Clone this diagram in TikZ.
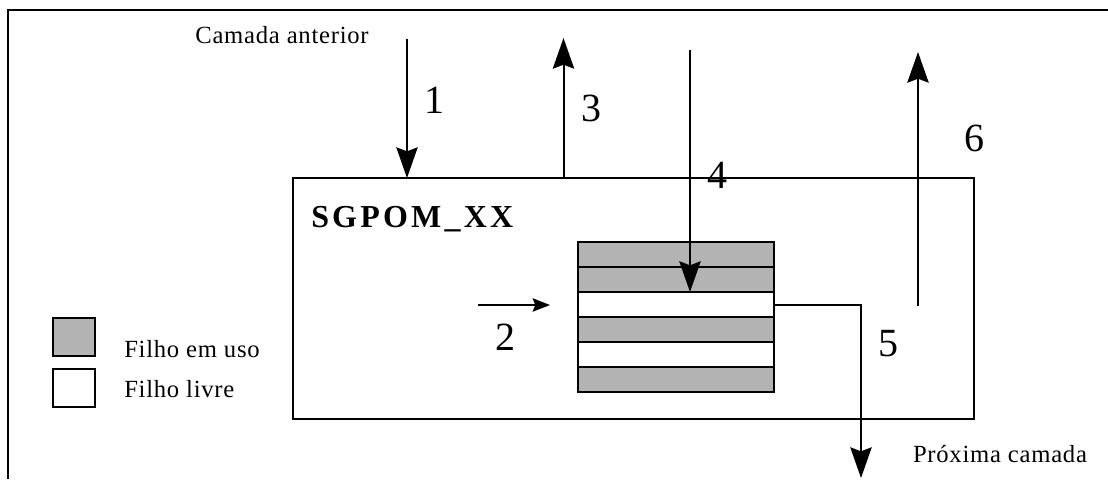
\documentclass[tikz,border=0pt]{standalone}
\usepackage{fontspec}
\setmainfont{Liberation Serif}
\newfontfamily\lblfont[LetterSpace=3]{Liberation Serif}
\newfontfamily\ttlfont[LetterSpace=10]{Liberation Serif}
\usetikzlibrary{arrows.meta,positioning}
\definecolor{ink}{HTML}{000000}
\definecolor{busy}{HTML}{B3B3B3}
\tikzset{
  lbl/.style  ={font=\lblfont\fontsize{18.5}{20}\selectfont,inner sep=0pt,text=ink},
  num/.style  ={font=\fontsize{30}{32}\selectfont,inner sep=0pt,text=ink},
  ttl/.style  ={font=\ttlfont\bfseries\fontsize{24}{26}\selectfont,inner sep=0pt,text=ink},
  slot/.style ={draw=ink,line width=2.2pt,minimum width=147pt,minimum height=18.75pt,inner sep=0pt,outer sep=0pt},
  used/.style ={slot,fill=busy},
  free/.style ={slot,fill=white},
  key/.style  ={draw=ink,line width=1.5pt,minimum width=31.5pt,minimum height=28.5pt,inner sep=0pt},
  blk/.style  ={draw=ink,line width=1.5pt,minimum width=510.75pt,minimum height=180.75pt,inner sep=0pt,outer sep=0pt},
  a/.style    ={-{Stealth[length=23pt,width=16pt,inset=3pt]},line width=1.5pt,ink},
  as/.style   ={-{Stealth[length=13pt,width=10pt,inset=2pt]},line width=1.5pt,ink},
}
\begin{document}
\begin{tikzpicture}[x=0.75pt,y=-0.75pt]
\useasboundingbox (0,0) rectangle (1108,479);
% ===== frame =====
\draw[line width=1.8pt,ink] (1108,10) -- (8,10) -- (8,479);

% ===== SGPOM block =====
\node[blk] (sgpom) at (633.5,298.5) {};
\node[ttl,anchor=base west] (name) at (311,227) {SGPOM\_XX};

% ===== child stack =====
\node[used] (r1) at (676,254.5) {};
\node[used,below=0pt of r1] (r2) {};
\node[free,below=0pt of r2] (r3) {};
\node[used,below=0pt of r3] (r4) {};
\node[free,below=0pt of r4] (r5) {};
\node[used,below=0pt of r5] (r6) {};

% ===== legend =====
\node[key,fill=busy] (kuse) at (74,337) {};
\node[key,fill=white] (kfree) at (74,388) {};
\node[lbl,anchor=base west] (tuse) at (124,357) {Filho em uso};
\node[lbl,anchor=base west] (tfree) at (124,397) {Filho livre};

% ===== layers =====
\node[lbl,anchor=base] (prev) at (282,43) {Camada anterior};
\node[lbl,anchor=base] (next) at (1000,462) {Próxima camada};

% ===== flows =====
\coordinate (in1) at (407,39);
\coordinate (out3) at (563.5,38);
\coordinate (top4) at (690,50);
\coordinate (src2) at (478,305);
\coordinate (dst2) at (550,305);
\coordinate (out5) at (861,478);
\coordinate (bot6) at (918,306);
\coordinate (top6) at (918,52);
\draw[a] (in1) -- (in1 |- sgpom.north);
\draw[a] (out3 |- sgpom.north) -- (out3);
\draw[a] (top4) -- (top4 |- r3.north);
\draw[as] (src2) -- (dst2);
\draw[a] (r3.east) -| (out5);
\draw[a] (bot6) -- (top6);

\node[num] (n1) at (434,100) {1};
\node[num] (n2) at (505,337) {2};
\node[num] (n3) at (591,108) {3};
\node[num] (n4) at (717,175) {4};
\node[num] (n5) at (888,344) {5};
\node[num] (n6) at (974,138) {6};
\end{tikzpicture}
\end{document}
